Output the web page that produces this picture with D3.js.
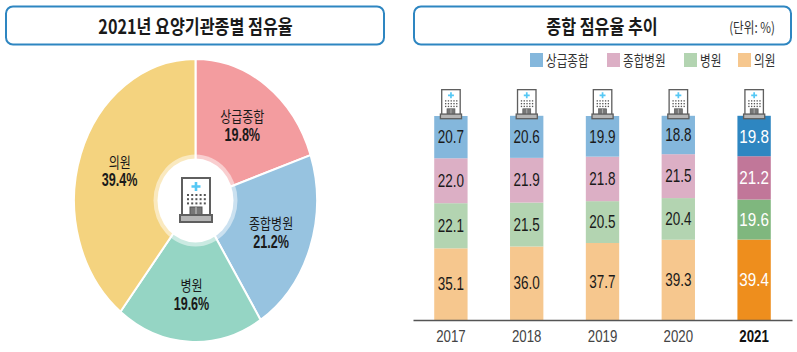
<!DOCTYPE html>
<meta charset="utf-8">
<style>
  html, body { margin: 0; padding: 0; background: #fff; }
  svg { display: block; }
  text { font-family: "Noto Sans CJK KR", "Noto Sans", sans-serif; fill: #1a1a1a; }
  .num { font-family: "Liberation Sans", sans-serif; }
</style>
<script src="https://d3js.org/d3.v7.min.js"></script>
<div id="my_dataviz"></div>

<script>
  // pie data
  var pieNames = ["상급종합", "종합병원", "병원", "의원"];
  var pieValues = [19.8, 21.2, 19.6, 39.4];
  var pieColors = ["#f39c9f", "#97c3e0", "#95d5c4", "#f4d37f"];

  // stacked bars data, bottom to top
  var years = ["2017", "2018", "2019", "2020", "2021"];
  var clinic = [35.1, 36.0, 37.7, 39.3, 39.4];
  var hospital = [22.1, 21.5, 20.5, 20.4, 19.6];
  var general = [22.0, 21.9, 21.8, 21.5, 21.2];
  var tertiary = [20.7, 20.6, 19.9, 18.8, 19.8];
  var stackKeys = ["의원", "병원", "종합병원", "상급종합"];
  var stackValues = [clinic, hospital, general, tertiary];
  var stackColors = ["#f6c78e", "#b3d4b1", "#dcafc5", "#84b7dc"];
  var stackColorsLast = ["#ee8e1d", "#7fb77e", "#c17799", "#2e86c1"];

  var legendNames = ["상급종합", "종합병원", "병원", "의원"];
  var legendColors = ["#84b7dc", "#dcafc5", "#b3d4b1", "#f6c78e"];
  var legendX = [530, 607, 684, 738];

  var svg = d3.select("#my_dataviz")
    .append("svg")
    .attr("width", 797)
    .attr("height", 352);

  // the original type is narrow, so squeeze it horizontally
  function label(x, y, str, size, opts) {
    opts = opts || {};
    var g = svg.append("g")
      .attr("transform", "translate(" + x + "," + y + ") scale(" + (opts.sx || 0.8) + ",1)");
    return g.append("text")
      .attr("class", opts.cls || null)
      .attr("text-anchor", opts.anchor || "middle")
      .attr("dominant-baseline", "central")
      .style("font-size", size + "px")
      .style("font-weight", opts.weight || 400)
      .style("fill", opts.fill || "#1a1a1a")
      .text(str);
  }

  // building icon, drawn in a 32x46 box
  function building(x, y, k) {
    var g = svg.append("g")
      .attr("transform", "translate(" + x + "," + y + ") scale(" + k + ")");
    g.append("rect").attr("x", 2).attr("y", 1).attr("width", 28).attr("height", 39)
      .attr("fill", "#fff").attr("stroke", "#5f5f5f").attr("stroke-width", 2);
    g.append("path").attr("d", "M16 5V14M11.5 9.5H20.5")
      .attr("stroke", "#55c8f5").attr("stroke-width", 2.6);
    d3.range(3).forEach(function(r) {
      d3.range(5).forEach(function(c) {
        g.append("rect").attr("x", 7 + c * 4.2).attr("y", 17 + r * 4.2)
          .attr("width", 2).attr("height", 2).attr("fill", "#555");
      });
    });
    g.append("rect").attr("x", 10).attr("y", 30).attr("width", 12).attr("height", 9)
      .attr("fill", "#777").attr("stroke", "#555").attr("stroke-width", 1);
    g.append("path").attr("d", "M16 30V39").attr("stroke", "#ccc").attr("stroke-width", 1);
    g.append("rect").attr("x", 0).attr("y", 38).attr("width", 32).attr("height", 7)
      .attr("fill", "#b5b5b5").attr("stroke", "#5f5f5f").attr("stroke-width", 2);
  }

  // title boxes
  [[5, 380], [413, 379]].forEach(function(b) {
    svg.append("rect")
      .attr("x", b[0] + 1).attr("y", 6.5)
      .attr("width", b[1] - 2).attr("height", 38)
      .attr("rx", 7)
      .attr("fill", "#fff")
      .attr("stroke", "#2e86c1")
      .attr("stroke-width", 2);
  });
  label(195.5, 25, "2021년 요양기관종별 점유율", 19.5, { weight: 700, sx: 0.83 });
  label(602, 25, "종합 점유율 추이", 19.5, { weight: 700, sx: 0.83 });
  label(752, 27, "(단위: %)", 14.5, { fill: "#333" });

  // pie, unit radius and stretched to an ellipse
  var cx = 195.5, cy = 200.5, rx = 121.5, ry = 141.5;
  var pie = d3.pie().sort(null).value(function(d) { return d; });
  var arcs = pie(pieValues);
  var arc = d3.arc().innerRadius(0).outerRadius(1);
  var labelArc = d3.arc().innerRadius(0.66).outerRadius(0.66);

  var pieG = svg.append("g")
    .attr("transform", "translate(" + cx + "," + cy + ") scale(" + rx + "," + ry + ")");
  pieG.selectAll("path")
    .data(arcs)
    .enter()
    .append("path")
    .attr("d", arc)
    .attr("fill", function(d, i) { return pieColors[i]; })
    .attr("stroke", "#fff")
    .attr("stroke-width", 2)
    .attr("vector-effect", "non-scaling-stroke");
  pieG.append("ellipse").attr("rx", 42 / rx).attr("ry", 46 / ry)
    .attr("fill", "#fff").attr("fill-opacity", 0.5);
  pieG.append("ellipse").attr("rx", 38 / rx).attr("ry", 42 / ry)
    .attr("fill", "#fff");

  arcs.forEach(function(d, i) {
    var c = labelArc.centroid(d);
    var px = cx + c[0] * rx, py = cy + c[1] * ry;
    label(px, py - 9, pieNames[i], 15);
    label(px, py + 10, pieValues[i].toFixed(1) + "%", 18, { cls: "num", weight: 700, sx: 0.7 });
  });
  building(180, 177, 1);

  // legend
  legendNames.forEach(function(d, i) {
    svg.append("rect")
      .attr("x", legendX[i]).attr("y", 53)
      .attr("width", 13).attr("height", 14)
      .attr("fill", legendColors[i]);
    label(legendX[i] + 16, 60, d, 14.5, { anchor: "start", fill: "#333" });
  });

  // stacked bars
  var x = d3.scaleBand()
    .domain(years)
    .range([413, 792])
    .paddingInner(0.56)
    .paddingOuter(0.28);
  var y = d3.scaleLinear()
    .domain([0, 99.9])
    .range([320, 116]);

  var table = years.map(function(yr, i) {
    var row = { year: yr };
    stackKeys.forEach(function(k, j) { row[k] = stackValues[j][i]; });
    return row;
  });
  var series = d3.stack().keys(stackKeys)(table);

  series.forEach(function(s, j) {
    svg.append("g")
      .selectAll("rect")
      .data(s)
      .enter()
      .append("rect")
      .attr("x", function(d) { return x(d.data.year); })
      .attr("y", function(d) { return y(d[1]); })
      .attr("width", x.bandwidth())
      .attr("height", function(d) { return y(d[0]) - y(d[1]); })
      .attr("fill", function(d) {
        return d.data.year === "2021" ? stackColorsLast[j] : stackColors[j];
      });
    s.forEach(function(d) {
      var last = d.data.year === "2021";
      label(x(d.data.year) + x.bandwidth() / 2, y((d[0] + d[1]) / 2),
        d.data[stackKeys[j]].toFixed(1), last ? 19 : 18,
        { cls: "num", sx: last ? 0.8 : 0.75, fill: last ? "#fff" : "#1a1a1a" });
    });
  });

  years.forEach(function(yr) {
    building(x(yr) + x.bandwidth() / 2 - 10.5, 89, 0.66);
  });

  // x axis, tick labels squeezed like the rest
  var axis = svg.append("g")
    .attr("transform", "translate(0,320)")
    .call(d3.axisBottom(x).tickSize(0).tickPadding(10).tickSizeOuter(0));
  axis.select(".domain").attr("stroke", "#555").attr("stroke-width", 1.5);
  axis.selectAll("text")
    .attr("class", "num")
    .attr("transform", "scale(1,1)")
    .style("font-size", "17px")
    .style("font-weight", function(d) { return d === "2021" ? 700 : 400; })
    .style("fill", function(d) { return d === "2021" ? "#111" : "#444"; })
    .each(function(d) {
      // squeeze around the tick centre
      var t = d3.select(this);
      var cxTick = x(d) + x.bandwidth() / 2;
      t.attr("text-anchor", "middle");
      d3.select(this.parentNode).attr("transform", "translate(" + cxTick + ",0) scale(0.78,1)");
    });
</script>
